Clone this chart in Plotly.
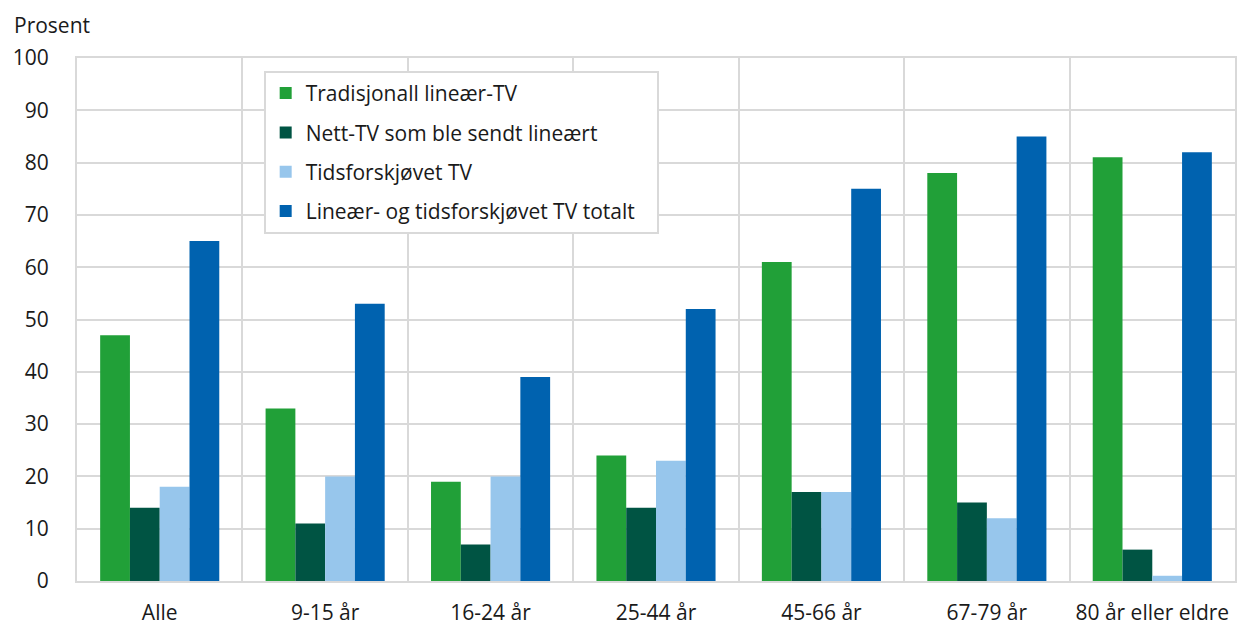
import plotly.graph_objects as go

categories = ["Alle", "9-15 år", "16-24 år", "25-44 år", "45-66 år", "67-79 år", "80 år eller eldre"]
series_names = [
    "Tradisjonall lineær-TV",
    "Nett-TV som ble sendt lineært",
    "Tidsforskjøvet TV",
    "Lineær- og tidsforskjøvet TV totalt",
]
tradisjonell = [47, 33, 19, 24, 61, 78, 81]
nett_tv = [14, 11, 7, 14, 17, 15, 6]
tidsforskjovet = [18, 20, 20, 23, 17, 12, 1]
totalt = [65, 53, 39, 52, 75, 85, 82]
y_ticks = [0, 10, 20, 30, 40, 50, 60, 70, 80, 90, 100]

colors = ["#21A038", "#005443", "#97C6EC", "#0062AF"]
FONT = "Open Sans"
FS = 21
TXT = "#1a1a1a"

W, H = 1237, 626
L, R, T, B = 77, 0, 58, 43
pw = W - L - R
ph = H - T - B

fig = go.Figure()
for i, (name, vals) in enumerate(zip(series_names, [tradisjonell, nett_tv, tidsforskjovet, totalt])):
    label = name + ("&nbsp;&nbsp;&nbsp;" if i == 3 else "")
    fig.add_trace(go.Bar(
        x=categories, y=vals, name=label, marker=dict(color=colors[i], line=dict(width=0)),
        legendgroup=f"g{i}",
    ))

grid = "#D9D9D9"
fig.update_layout(
    width=W, height=H,
    margin=dict(l=L, r=R, t=T, b=B),
    paper_bgcolor="white", plot_bgcolor="white",
    barmode="group", bargap=0.28, bargroupgap=0,
    font=dict(family=FONT, size=FS, color=TXT),
    showlegend=True,
    legend=dict(
        x=(264 - L) / pw, y=(H - B - 71) / ph, xanchor="left", yanchor="top",
        bgcolor="white", bordercolor=grid, borderwidth=2,
        font=dict(family=FONT, size=FS, color=TXT),
        tracegroupgap=9, traceorder="grouped",
    ),
    xaxis=dict(
        type="category", tickson="boundaries", showgrid=True, gridcolor=grid, gridwidth=2,
        showline=True, linecolor=grid, linewidth=2, mirror=True,
        ticks="", ticklabelstandoff=12, tickfont=dict(size=FS),
    ),
    yaxis=dict(
        range=[0, 100], tickvals=y_ticks, showgrid=True, gridcolor=grid, gridwidth=2,
        showline=True, linecolor=grid, linewidth=2, mirror=True, zeroline=False,
        ticks="", ticklabelstandoff=22, tickfont=dict(size=FS),
    ),
    annotations=[dict(
        text="Prosent", x=(12 - L) / pw, y=(H - B - 25) / ph, xref="paper", yref="paper",
        xanchor="left", yanchor="middle",
        showarrow=False, font=dict(family=FONT, size=FS, color=TXT),
    )],
)
fig.write_html("out.html", config={"displayModeBar": False},
               post_script="document.body.style.margin='0';")
